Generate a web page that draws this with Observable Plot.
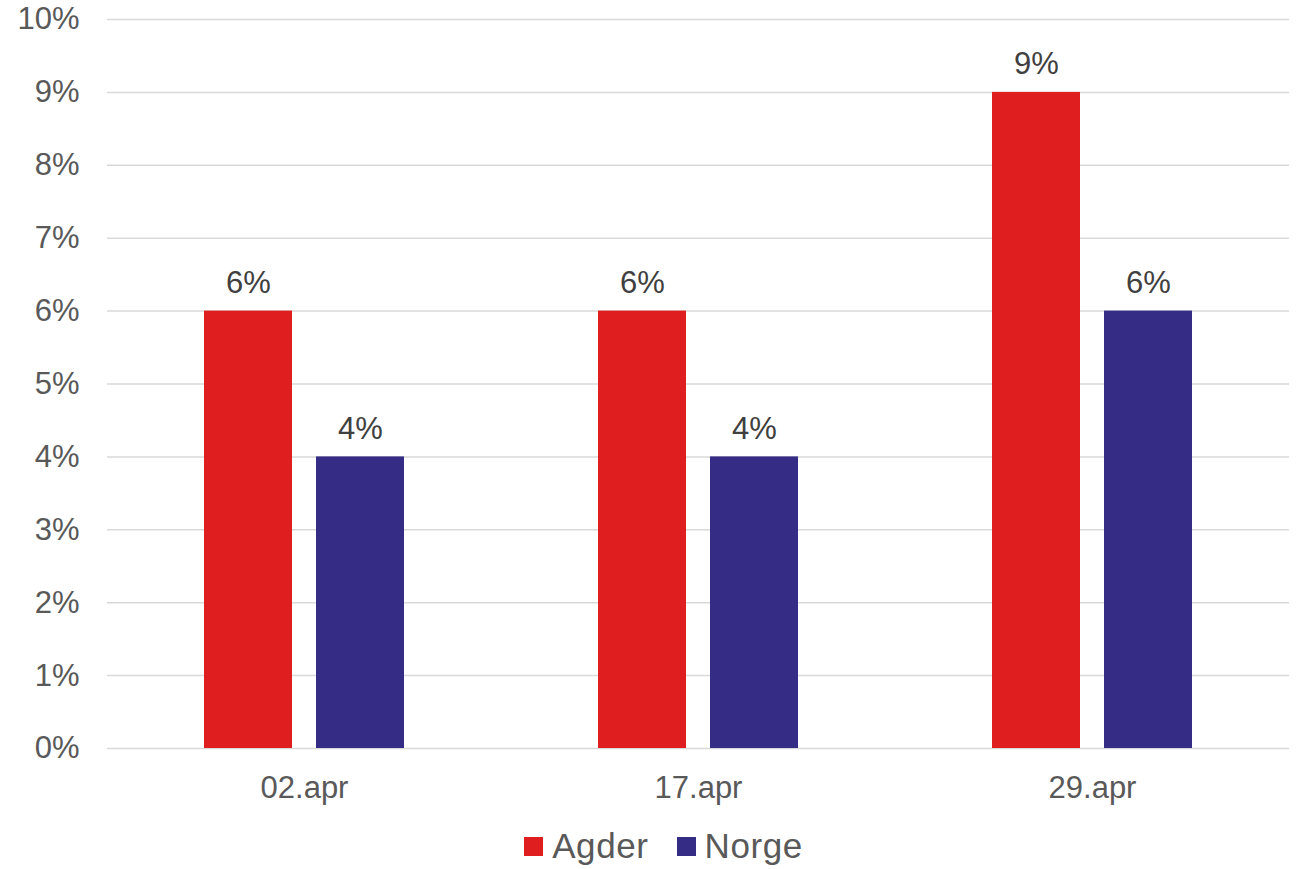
<!DOCTYPE html>
<html>
<head>
<meta charset="utf-8">
<script src="https://cdn.jsdelivr.net/npm/d3@7"></script>
<script src="https://cdn.jsdelivr.net/npm/@observablehq/plot@0.6"></script>
<style>
  html, body { margin: 0; padding: 0; background: #fff; }
  #chart { position: relative; width: 1301px; height: 869px; font-family: "Liberation Sans", Arial, sans-serif; }
  #legend { position: absolute; left: 0; top: 826px; width: 1301px; height: 40px; display: flex; justify-content: center; align-items: center; font-size: 35px; line-height: 40px; letter-spacing: 0.6px; color: #595959; padding-left: 26px; box-sizing: border-box; }
  .item { display: flex; align-items: center; margin: 0 14px; }
  .sw { width: 19px; height: 19px; display: inline-block; margin-right: 9px; }
</style>
</head>
<body>
<div id="chart"></div>
<script>
const dates = ["02.apr", "17.apr", "29.apr"];
const series = ["Agder", "Norge"];
const agder = [6, 6, 9];
const norge = [4, 4, 6];
const colors = ["#df1f1f", "#352c85"];
const yTicks = [0, 1, 2, 3, 4, 5, 6, 7, 8, 9, 10];

const values = { Agder: agder, Norge: norge };
const data = dates.flatMap((d, i) => series.map(s => ({ date: d, series: s, value: values[s][i] })));

const chart = Plot.plot({
  width: 1301,
  height: 810,
  marginTop: 19,
  marginLeft: 106,
  marginRight: 12,
  marginBottom: 62,
  style: { fontFamily: "Liberation Sans, Arial, sans-serif", fontSize: "31px", color: "#595959", background: "#fff", overflow: "visible" },
  fx: { domain: dates, padding: 0, label: null, axis: "bottom", tickSize: 0, tickPadding: 27 },
  x: { domain: series, paddingInner: 0.2143, paddingOuter: 0.866, axis: null },
  y: { domain: [0, 10], ticks: yTicks, tickFormat: d => d + "%", label: null, tickSize: 0, tickPadding: 28 },
  color: { domain: series, range: colors },
  marks: [
    Plot.ruleY(yTicks, { stroke: "#d9d9d9", strokeWidth: 1.5 }),
    Plot.barY(data, { fx: "date", x: "series", y: "value", fill: "series" }),
    Plot.text(data, { fx: "date", x: "series", y: "value", text: d => d.value + "%", dy: -28, fill: "#404040", fontSize: 31 })
  ]
});
document.getElementById("chart").appendChild(chart);

const legend = document.createElement("div");
legend.id = "legend";
series.forEach((s, i) => {
  const item = document.createElement("div");
  item.className = "item";
  const sw = document.createElement("span");
  sw.className = "sw";
  sw.style.background = colors[i];
  item.appendChild(sw);
  item.appendChild(document.createTextNode(s));
  legend.appendChild(item);
});
document.getElementById("chart").appendChild(legend);
</script>
</body>
</html>
